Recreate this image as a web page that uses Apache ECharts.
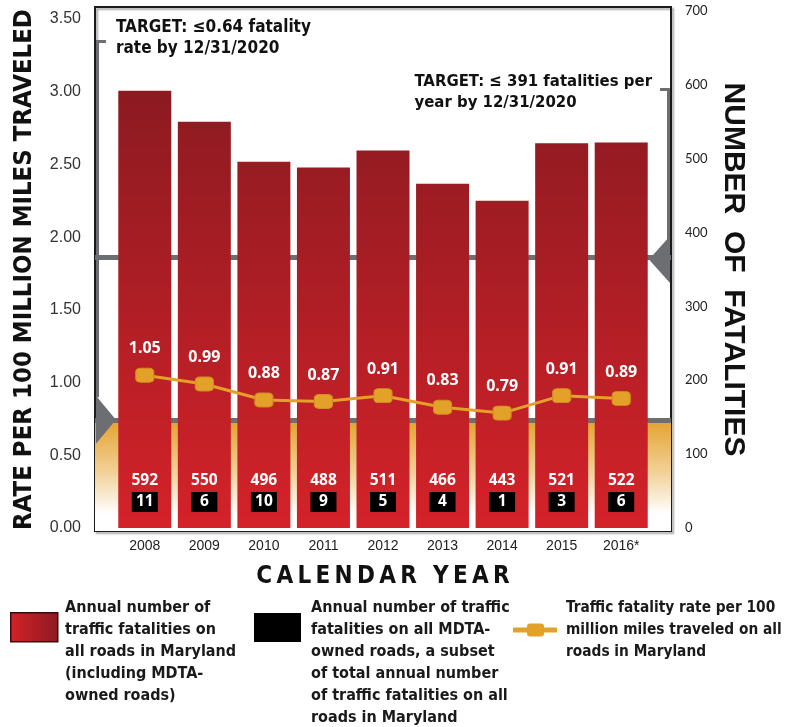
<!DOCTYPE html>
<html><head><meta charset="utf-8">
<script src="https://cdn.jsdelivr.net/npm/echarts@6/dist/echarts.min.js"></script>
<style>html,body{margin:0;padding:0;background:#fff}#c{width:788px;height:727px}</style>
</head><body><div id="c"></div>
<script>
// ---- data ----
const years = ['2008','2009','2010','2011','2012','2013','2014','2015','2016*'];
const fatalities = [592, 550, 496, 488, 511, 466, 443, 521, 522];
const mdtaFatalities = [11, 6, 10, 9, 5, 4, 1, 3, 6];
const fatalityRate = [1.05, 0.99, 0.88, 0.87, 0.91, 0.83, 0.79, 0.91, 0.89];
const rateAxisTicks = [0, 0.5, 1, 1.5, 2, 2.5, 3, 3.5];
const countAxisTicks = [0, 100, 200, 300, 400, 500, 600, 700];
const rateTargetText = 'TARGET: \u22640.64 fatality\nrate by 12/31/2020';
const countTargetText = 'TARGET: \u2264 391 fatalities per\nyear by 12/31/2020';
const legendNames = [
  'Annual number of\ntraffic fatalities on\nall roads in Maryland\n(including MDTA-\nowned roads)',
  'Annual number of traffic\nfatalities on all MDTA-\nowned roads, a subset\nof total annual number\nof traffic fatalities on all\nroads in Maryland',
  'Traffic fatality rate per 100\nmillion miles traveled on all\nroads in Maryland'
];

const COND = '"DejaVu Sans Condensed", "Liberation Sans Narrow", "Liberation Sans", sans-serif';
const SANS = '"Liberation Sans", Arial, sans-serif';
const NOTO = '"Noto Sans", "DejaVu Sans", sans-serif';
const GRAY = '#6d6e71';
const ORANGE = '#e3a12a';
const TS = '\u2009';
const spaced = s => s.split(' ').map(w => w.split('').join(TS)).join(TS + ' ' + TS);

const RATE_MAX = 3.555;          // left axis top (grid top is a bit above 3.50)
const PX_PER_RATE = 517 / RATE_MAX;

const chart = echarts.init(document.getElementById('c'), null, {renderer: 'canvas'});

const barGradient = new echarts.graphic.LinearGradient(0, 90, 0, 526, [
  {offset: 0, color: '#8c1a21'}, {offset: 1, color: '#d42229'}
], true);

const option = {
  backgroundColor: '#fff',
  animation: false,
  grid: [
    {left: 115, right: 137, top: 11, bottom: 199, outerBoundsMode: 'none', containLabel: false},
    {left: 95, right: 117, top: 7, bottom: 196, outerBoundsMode: 'none', containLabel: false,
     show: true, backgroundColor: 'rgba(0,0,0,0)',
     borderColor: '#1a1a1a', borderWidth: 2,
     shadowColor: 'rgba(0,0,0,0.35)', shadowBlur: 2, shadowOffsetX: 2, shadowOffsetY: 2}
  ],
  xAxis: [
    {gridIndex: 0, type: 'category', data: years,
     axisLine: {show: false}, axisTick: {show: false},
     axisLabel: {margin: 11, fontSize: 14, color: '#222', fontFamily: SANS},
     name: spaced('CALENDAR YEAR'), nameLocation: 'middle', nameGap: 37,
     nameTextStyle: {fontSize: 24, fontWeight: 'bold', color: '#111', fontFamily: COND}},
    {gridIndex: 1, type: 'value', min: 0, max: 100, show: false}
  ],
  yAxis: [
    {gridIndex: 0, type: 'value', min: 0, max: RATE_MAX, interval: 0.5,
     axisLine: {show: false}, axisTick: {show: false}, splitLine: {show: false},
     axisLabel: {margin: 34, fontSize: 16, color: '#333', fontFamily: SANS,
       formatter: v => rateAxisTicks.some(t => Math.abs(t - v) < 1e-6) ? v.toFixed(2) : ''},
     name: 'RATE PER 100 MILLION MILES TRAVELED', nameLocation: 'middle', nameRotate: 90, nameGap: 78,
     nameTextStyle: {fontSize: 25.5, fontWeight: 'bold', color: '#111', fontFamily: COND}},
    {gridIndex: 0, type: 'value', min: 0, max: 700, interval: 100, position: 'right',
     axisLine: {show: false}, axisTick: {show: false}, splitLine: {show: false},
     axisLabel: {margin: 34, fontSize: 13, color: '#222', fontFamily: 'Lato, "Open Sans", sans-serif',
       formatter: v => countAxisTicks.includes(v) ? String(v) : ''},
     name: 'NUMBER  OF  FATALITIES', nameLocation: 'middle', nameRotate: -90, nameGap: 65,
     nameTextStyle: {fontSize: 30, fontWeight: 'bold', color: '#111', fontFamily: SANS}},
    {gridIndex: 1, type: 'value', min: -3 / PX_PER_RATE, max: RATE_MAX + 4 / PX_PER_RATE, show: false}
  ],
  series: [
    { // decorations: orange band, target lines and brackets, drawn on frame grid (behind bars)
      type: 'line', xAxisIndex: 1, yAxisIndex: 2, data: [], z: 1, silent: true,
      markArea: {silent: true, z: 1, label: {show: false},
        itemStyle: {color: new echarts.graphic.LinearGradient(0, 0, 0, 1, [
          {offset: 0, color: '#e3a02b'}, {offset: 0.5, color: '#f2d39c'}, {offset: 0.85, color: '#ffffff'}])},
        data: [[{coord: [0, -3 / PX_PER_RATE]}, {coord: [100, 0.757]}]]},
      markLine: {silent: true, z: 1.5, symbol: 'none', label: {show: false},
        lineStyle: {color: GRAY, width: 5, type: 'solid'},
        data: [
          {yAxis: 0.745},
          {yAxis: 1.857},
          [{coord: [0.45, 3.356], lineStyle: {width: 3}}, {coord: [0.45, 0.9]}],
          [{coord: [0.2, 3.35], lineStyle: {width: 3}}, {coord: [1.9, 3.35]}],
          [{coord: [99.55, 3.02], lineStyle: {width: 3}}, {coord: [99.55, 1.95]}],
          [{coord: [98.1, 3.015], lineStyle: {width: 3}}, {coord: [99.8, 3.015]}]
        ]},
      markPoint: {silent: true, z: 1.5, label: {show: false}, itemStyle: {color: GRAY},
        data: [
          {coord: [1.9, 0.745], symbol: 'triangle', symbolSize: [48, 20], symbolRotate: -90},
          {coord: [98.0, 1.847], symbol: 'triangle', symbolSize: [47, 21], symbolRotate: 90}
        ]}
    },
    {
      name: legendNames[0], type: 'bar', xAxisIndex: 0, yAxisIndex: 1, data: fatalities,
      barWidth: 53, z: 2, itemStyle: {color: barGradient},
      label: {show: true, position: 'insideBottom', distance: 16,
        formatter: p => '{a|' + p.value + '}\n{b|' + mdtaFatalities[p.dataIndex] + '}',
        rich: {
          a: {color: '#fff', fontFamily: NOTO, fontWeight: 'bold', fontSize: 15.5, lineHeight: 22},
          b: {color: '#fff', backgroundColor: '#000', fontFamily: NOTO, fontWeight: 'bold', fontSize: 15.5,
              width: 26, height: 20, lineHeight: 20, align: 'center'}
        }}
    },
    {
      name: legendNames[2], type: 'line', xAxisIndex: 0, yAxisIndex: 0, data: fatalityRate, z: 3,
      symbol: 'roundRect', symbolSize: [18, 14],
      lineStyle: {color: ORANGE, width: 3},
      itemStyle: {color: ORANGE, borderColor: '#d08f1f', borderWidth: 1},
      label: {show: true, position: 'top', distance: 11, color: '#fff', fontSize: 16,
        fontWeight: 'bold', fontFamily: NOTO, formatter: p => p.value.toFixed(2)}
    }
  ],
  graphic: [
    {type: 'text', left: 116, top: 17, z: 10,
     style: {text: rateTargetText, font: 'bold 17px ' + COND, fill: '#111', lineHeight: 21}},
    {type: 'text', right: 136, top: 71, z: 10,
     style: {text: countTargetText, font: 'bold 16.6px ' + COND, fill: '#111', lineHeight: 21, align: 'right'}},
    // legend
    {type: 'rect', left: 10, top: 612, z: 10,
     shape: {width: 47, height: 29},
     style: {fill: new echarts.graphic.LinearGradient(0, 0, 1, 0, [
       {offset: 0, color: '#d42229'}, {offset: 1, color: '#8c1a21'}]), stroke: '#3a0a0c', lineWidth: 1.5}},
    {type: 'text', left: 65, top: 597, z: 10,
     style: {text: legendNames[0], font: 'bold 16px ' + COND, fill: '#1a1a1a', lineHeight: 22}},
    {type: 'rect', left: 254, top: 613, z: 10, shape: {width: 47, height: 29}, style: {fill: '#000'}},
    {type: 'text', left: 311, top: 597, z: 10,
     style: {text: legendNames[1], font: 'bold 16px ' + COND, fill: '#1a1a1a', lineHeight: 22}},
    {type: 'line', z: 10, shape: {x1: 513, y1: 630, x2: 557, y2: 630}, style: {stroke: ORANGE, lineWidth: 5}},
    {type: 'rect', z: 11, shape: {x: 527, y: 623.5, width: 17, height: 13, r: 3}, style: {fill: ORANGE}},
    {type: 'text', left: 566, top: 597, z: 10,
     style: {text: legendNames[2], font: 'bold 15.3px ' + COND, fill: '#1a1a1a', lineHeight: 22}}
  ]
};
chart.setOption(option);
</script>
</body></html>
